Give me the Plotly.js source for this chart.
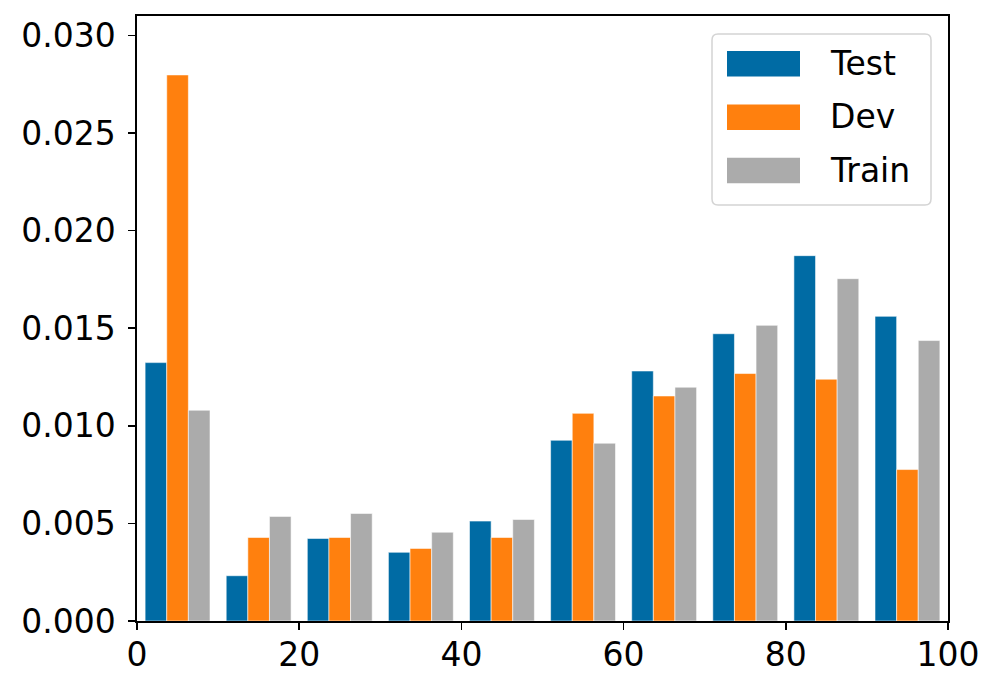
<!DOCTYPE html>
<html>
<head>
<meta charset="utf-8">
<script src="https://cdn.plot.ly/plotly-3.0.1.min.js"></script>
<style>
html,body{margin:0;padding:0;background:#fff;}
#chart{width:1000px;height:674px;}
</style>
</head>
<body>
<div id="chart"></div>
<script>
// Histogram bin edges (0..100, 10 bins)
const binEdges = [0, 10, 20, 30, 40, 50, 60, 70, 80, 90, 100];
const seriesNames = ["Test", "Dev", "Train"];
const seriesColors = ["#006BA4", "#FF800E", "#ABABAB"];
// Density values per bin
const testValues  = [0.01324, 0.00232, 0.00423, 0.00352, 0.00512, 0.00926, 0.01281, 0.01472, 0.01872, 0.01561];
const devValues   = [0.02798, 0.00428, 0.00428, 0.00372, 0.00428, 0.01064, 0.01153, 0.01268, 0.01239, 0.00776];
const trainValues = [0.01080, 0.00536, 0.00551, 0.00455, 0.00520, 0.00911, 0.01198, 0.01515, 0.01754, 0.01437];
const xTickVals = [0, 20, 40, 60, 80, 100];
const yTickVals = [0.000, 0.005, 0.010, 0.015, 0.020, 0.025, 0.030];

const binCenters = binEdges.slice(0, -1).map((e, i) => (e + binEdges[i + 1]) / 2);
const allValues = [testValues, devValues, trainValues];

const W = 1000, H = 674;
const M = {l: 137, r: 52, t: 16, b: 53};
const PW = W - M.l - M.r, PH = H - M.t - M.b;
const px = x => (x - M.l) / PW;
const py = y => (H - M.b - y) / PH;

const traces = seriesNames.map((name, i) => ({
  type: "bar",
  name: name,
  x: binCenters,
  y: allValues[i],
  marker: {color: seriesColors[i], line: {color: "rgba(255,255,255,0.55)", width: 1}},
  hoverinfo: "x+y+name"
}));

// Custom matplotlib-like legend
const shapes = [];
const annotations = [];
const bx0 = 712, bx1 = 931, by0 = 34, by1 = 205, r = 6;
const pathPts = [
  `M ${px(bx0 + r)} ${py(by0)}`,
  `L ${px(bx1 - r)} ${py(by0)}`,
  `Q ${px(bx1)} ${py(by0)} ${px(bx1)} ${py(by0 + r)}`,
  `L ${px(bx1)} ${py(by1 - r)}`,
  `Q ${px(bx1)} ${py(by1)} ${px(bx1 - r)} ${py(by1)}`,
  `L ${px(bx0 + r)} ${py(by1)}`,
  `Q ${px(bx0)} ${py(by1)} ${px(bx0)} ${py(by1 - r)}`,
  `L ${px(bx0)} ${py(by0 + r)}`,
  `Q ${px(bx0)} ${py(by0)} ${px(bx0 + r)} ${py(by0)}`,
  "Z"
].join(" ");
shapes.push({type: "path", xref: "paper", yref: "paper", path: pathPts,
  line: {color: "#d4d4d4", width: 1.5}, fillcolor: "rgba(255,255,255,0.8)", layer: "above"});
const rowTop = [51, 104.5, 157.7];
seriesNames.forEach((name, i) => {
  const t = rowTop[i];
  shapes.push({type: "rect", xref: "paper", yref: "paper",
    x0: px(727), x1: px(800), y0: py(t + 25.5), y1: py(t),
    fillcolor: seriesColors[i], line: {width: 0}, layer: "above"});
  annotations.push({xref: "paper", yref: "paper", x: px(828), y: py(t + 12.5),
    xanchor: "left", yanchor: "middle", showarrow: false, text: name,
    font: {family: "DejaVu Sans", size: 33, color: "#000"}});
});

const axisCommon = {
  showline: true, mirror: true, linecolor: "#000", linewidth: 1.6,
  ticks: "outside", ticklen: 7, tickwidth: 1.6, tickcolor: "#000",
  showgrid: false, zeroline: false,
  tickfont: {family: "DejaVu Sans", size: 33, color: "#000"}
};

const layout = {
  width: W, height: H,
  margin: M,
  paper_bgcolor: "#fff", plot_bgcolor: "#fff",
  barmode: "group", bargap: 0.2, bargroupgap: 0,
  showlegend: false,
  xaxis: Object.assign({}, axisCommon, {range: [0, 100], tickvals: xTickVals, ticktext: xTickVals.map(String), ticklabelstandoff: -3}),
  yaxis: Object.assign({}, axisCommon, {range: [0, 0.031], tickvals: yTickVals, ticktext: yTickVals.map(v => v.toFixed(3)), ticklabelstandoff: 6}),
  shapes: shapes,
  annotations: annotations
};

Plotly.newPlot("chart", traces, layout, {displayModeBar: false, staticPlot: true});
</script>
</body>
</html>
